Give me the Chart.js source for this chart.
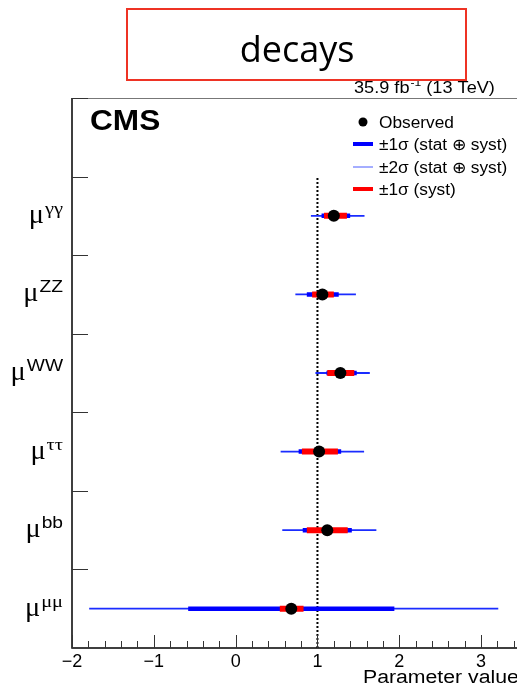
<!DOCTYPE html>
<html>
<head>
<meta charset="utf-8">
<script src="https://cdn.jsdelivr.net/npm/chart.js@4.4.1/dist/chart.umd.min.js"></script>
<style>
  html, body { margin: 0; padding: 0; background: #fff; overflow: hidden; }
  #wrap { width: 517px; height: 697px; overflow: hidden; position: relative; }
  canvas { display: block; }
</style>
</head>
<body>
<div id="wrap"><canvas id="c" width="560" height="697"></canvas></div>
<script>
// signal strength per decay channel, top row first
const params   = ['γγ', 'ZZ', 'WW', 'ττ', 'bb', 'μμ'];
const observed = [1.20, 1.06, 1.28, 1.02, 1.12, 0.68];
const tot1Lo   = [1.05, 0.87, 1.11, 0.77, 0.82, -0.58];
const tot1Hi   = [1.40, 1.26, 1.48, 1.29, 1.42, 1.94];
const tot2Lo   = [0.92, 0.73, 0.975, 0.55, 0.57, -1.79];
const tot2Hi   = [1.575, 1.47, 1.64, 1.57, 1.72, 3.21];
const systLo   = [1.08, 0.935, 1.12, 0.81, 0.87, 0.54];
const systHi   = [1.36, 1.20, 1.45, 1.25, 1.37, 0.83];
const xTicks   = [-2, -1, 0, 1, 2, 3];
const smValue  = 1;
const legendLabels = ['Observed', '±1σ (stat ⊕ syst)', '±2σ (stat ⊕ syst)', '±1σ (syst)'];

const BLUE = '#0000ff', RED = '#ff0000';
const rowY = i => params.length - i - 0.5;

// one line dataset holding every row's interval, broken by null points
function segments(lo, hi) {
    return lo.flatMap((l, i) => [
        { x: l, y: rowY(i) },
        { x: hi[i], y: rowY(i) },
        { x: hi[i], y: null }
    ]);
}

// text with a slight horizontal stretch (the original picture is wider than tall)
function txt(ctx, s, x, y, font, sx = 1, align = 'left', color = '#000') {
    ctx.save();
    ctx.font = font;
    ctx.fillStyle = color;
    ctx.textBaseline = 'alphabetic';
    ctx.textAlign = 'left';
    const w = ctx.measureText(s).width * sx;
    const x0 = align === 'right' ? x - w : align === 'center' ? x - w / 2 : x;
    ctx.translate(x0, y);
    ctx.scale(sx, 1);
    ctx.fillText(s, 0, 0);
    ctx.restore();
    return w;
}

const decor = {
    id: 'decor',
    afterDraw(chart) {
        const { ctx, chartArea: a, scales: { x, y } } = chart;
        ctx.save();

        // frame
        ctx.strokeStyle = '#777';
        ctx.lineWidth = 1;
        ctx.beginPath(); ctx.moveTo(a.left, a.top + 0.5); ctx.lineTo(a.right, a.top + 0.5); ctx.stroke();
        ctx.strokeStyle = '#000';
        ctx.lineWidth = 1.5;
        ctx.beginPath();
        ctx.moveTo(a.left, a.top); ctx.lineTo(a.left, a.bottom); ctx.lineTo(a.right, a.bottom);
        ctx.stroke();

        // x ticks, pointing inward
        ctx.strokeStyle = '#333';
        ctx.lineWidth = 1;
        for (let v = x.min; v <= x.max + 1e-6; v += 0.2) {
            const major = Math.abs(v - Math.round(v)) < 1e-6;
            const px = Math.round(x.getPixelForValue(v)) + 0.5;
            ctx.beginPath();
            ctx.moveTo(px, a.bottom);
            ctx.lineTo(px, a.bottom - (major ? 13 : 7));
            ctx.stroke();
        }
        // y ticks between rows
        for (let v = 1; v <= y.max; v++) {
            const py = Math.round(y.getPixelForValue(v)) + 0.5;
            ctx.beginPath(); ctx.moveTo(a.left, py); ctx.lineTo(a.left + 16, py); ctx.stroke();
        }

        // row labels mu^{xx}
        params.forEach((p, i) => {
            const base = y.getPixelForValue(rowY(i)) + 7;
            const greek = /[^\x00-\x7f]/.test(p);
            ctx.font = greek ? '17px "Liberation Serif"' : '16px "Liberation Sans"';
            const supW = ctx.measureText(p).width * 1.2;
            txt(ctx, p, 63, base - 9, ctx.font, 1.2, 'right');
            txt(ctx, 'μ', 63 - supW - 1, base, '27px "Liberation Serif"', 1.05, 'right');
        });

        // CMS + lumi
        txt(ctx, 'CMS', 90, 130, 'bold 29px "Liberation Sans"', 1.09);
        let lx = 354;
        lx += txt(ctx, '35.9 fb', lx, 93, '16.5px "Liberation Sans"', 1.1);
        lx += txt(ctx, '-1', lx + 1, 86, '11px "Liberation Sans"', 1.1) + 1;
        txt(ctx, ' (13 TeV)', lx, 93, '16.5px "Liberation Sans"', 1.1);

        // legend
        const ly = [122, 144, 167, 189];
        ctx.fillStyle = '#000';
        ctx.beginPath(); ctx.arc(363, ly[0], 4.5, 0, Math.PI * 2); ctx.fill();
        const sample = [null, [BLUE, 4], ['#4a5cff', 1], [RED, 4]];
        sample.forEach((s, k) => {
            if (!s) return;
            ctx.strokeStyle = s[0];
            ctx.lineWidth = s[1];
            ctx.beginPath(); ctx.moveTo(353, ly[k]); ctx.lineTo(373, ly[k]); ctx.stroke();
        });
        legendLabels.forEach((t, k) => txt(ctx, t, 379, ly[k] + 6, '16px "Liberation Sans"', 1.08));

        // axis title
        txt(ctx, 'Parameter value', 363, 683, '18px "Liberation Sans"', 1.18);

        // heading box
        ctx.fillStyle = '#fff';
        ctx.fillRect(127, 9, 339, 71);
        ctx.strokeStyle = '#ee3324';
        ctx.lineWidth = 2;
        ctx.strokeRect(127, 9, 339, 71);
        txt(ctx, 'decays', 297, 62, '36px "Open Sans"', 1, 'center');

        ctx.restore();
    }
};

const band = (data, color, width, order) => ({
    data, order, showLine: true, spanGaps: false,
    borderColor: color, borderWidth: width, borderCapStyle: 'butt',
    pointRadius: 0, pointHoverRadius: 0
});

new Chart(document.getElementById('c'), {
    type: 'scatter',
    data: {
        datasets: [
            {
                data: observed.map((v, i) => ({ x: v, y: rowY(i) })),
                order: 0, pointRadius: 6, pointBackgroundColor: '#000',
                pointBorderWidth: 0, showLine: false
            },
            band(segments(systLo, systHi), RED, 6, 1),
            band(segments(tot1Lo, tot1Hi), BLUE, 4.5, 2),
            band(segments(tot2Lo, tot2Hi), '#1a2cff', 1.8, 3),
            {
                data: [{ x: smValue, y: 0 }, { x: smValue, y: params.length }],
                order: 4, showLine: true, borderColor: '#000', borderWidth: 2,
                borderDash: [2, 2], pointRadius: 0
            }
        ]
    },
    options: {
        responsive: false,
        animation: false,
        devicePixelRatio: 1,
        layout: { padding: { top: 98, right: 38, left: 0, bottom: 0 } },
        plugins: { legend: { display: false }, tooltip: { enabled: false } },
        scales: {
            x: {
                type: 'linear', min: -2, max: 3.5,
                grid: { display: false }, border: { display: false },
                afterBuildTicks: s => { s.ticks = xTicks.map(v => ({ value: v })); },
                afterFit: s => { s.height = 49; },
                ticks: {
                    padding: -5, color: '#000', maxRotation: 0,
                    font: { family: 'Liberation Sans', size: 18 },
                    callback: v => v < 0 ? '\u2212' + Math.abs(v) : String(v)
                }
            },
            y: {
                type: 'linear', min: 0, max: params.length + 1,
                grid: { display: false }, border: { display: false },
                ticks: { display: false, stepSize: 1 },
                afterFit: s => { s.width = 72; }
            }
        }
    },
    plugins: [decor]
});
</script>
</body>
</html>
